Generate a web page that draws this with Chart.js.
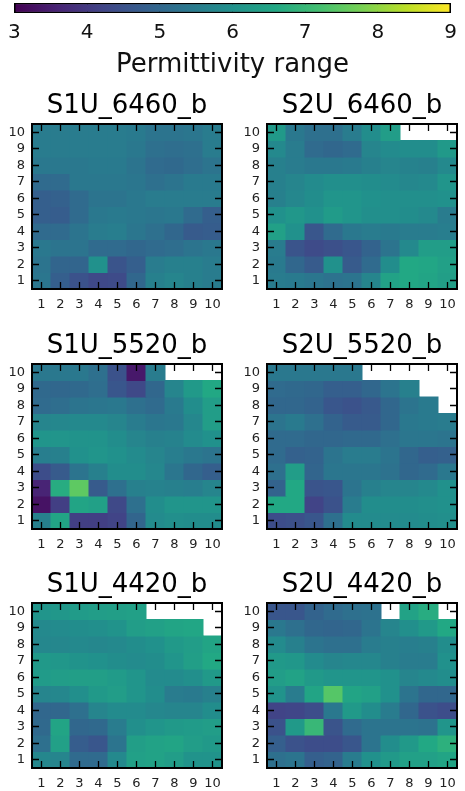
<!DOCTYPE html>
<html>
<head>
<meta charset="utf-8">
<script src="https://cdn.jsdelivr.net/npm/chart.js@4.4.0/dist/chart.umd.min.js"></script>
<style>
  html, body { margin: 0; padding: 0; background: #fff; overflow: hidden; }
  body { width: 465px; height: 791px; position: relative; }
  canvas { position: absolute; }
</style>
</head>
<body>
<canvas id="cbar" width="465" height="85" style="left:0px;top:0px"></canvas>
<canvas id="p0" width="232" height="230" style="left:0px;top:85px"></canvas>
<canvas id="p1" width="230" height="230" style="left:235px;top:85px"></canvas>
<canvas id="p2" width="232" height="230" style="left:0px;top:325px"></canvas>
<canvas id="p3" width="230" height="230" style="left:235px;top:325px"></canvas>
<canvas id="p4" width="232" height="230" style="left:0px;top:564px"></canvas>
<canvas id="p5" width="230" height="230" style="left:235px;top:564px"></canvas>
<script>
// tick labels
const xLabels = ['1', '2', '3', '4', '5', '6', '7', '8', '9', '10'];
const rowLabels = [10, 9, 8, 7, 6, 5, 4, 3, 2, 1]; // grid rows, top to bottom
const cbTicks = [3, 4, 5, 6, 7, 8, 9];
const panelTitles = ['S1U_6460_b', 'S2U_6460_b', 'S1U_5520_b', 'S2U_5520_b', 'S1U_4420_b', 'S2U_4420_b'];

// permittivity grids (null = no data)
const s1u6460 = [
  [5.5, 5.5, 5.5, 5.5, 5.5, 5.45, 5.3, 5.3, 5.35, 5.5],
  [5.5, 5.5, 5.5, 5.5, 5.5, 5.4, 5.2, 5.15, 5.2, 5.5],
  [5.4, 5.4, 5.4, 5.45, 5.45, 5.3, 5.1, 5.05, 5.15, 5.3],
  [5.1, 5.1, 5.4, 5.4, 5.4, 5.35, 5.2, 5.3, 5.45, 5.45],
  [4.8, 4.85, 5.1, 5.3, 5.3, 5.4, 5.5, 5.5, 5.5, 5.5],
  [4.8, 4.75, 5.1, 5.4, 5.45, 5.4, 5.35, 5.4, 5.1, 4.8],
  [5.1, 5.1, 5.3, 5.5, 5.55, 5.35, 5.2, 5.0, 4.7, 4.75],
  [5.4, 5.3, 5.3, 5.1, 5.1, 5.0, 5.1, 5.15, 5.3, 5.4],
  [5.3, 4.95, 4.95, 6.0, 4.55, 4.8, 5.5, 5.6, 5.6, 5.5],
  [5.35, 4.8, 4.5, 4.3, 4.35, 5.0, 5.6, 5.7, 5.6, 5.5]
];
const s2u6460 = [
  [6.2, 5.4, 5.2, 5.2, 5.5, 5.9, 6.3, null, null, null],
  [5.8, 5.5, 5.1, 5.0, 5.1, 5.7, 5.85, 5.9, 5.9, 6.2],
  [5.6, 5.5, 5.4, 5.4, 5.45, 5.6, 5.7, 5.65, 5.6, 5.8],
  [5.6, 5.7, 5.85, 5.95, 5.95, 5.9, 5.85, 5.75, 5.8, 6.1],
  [5.6, 5.75, 5.9, 6.1, 6.1, 6.0, 5.95, 5.95, 5.95, 6.0],
  [6.0, 6.15, 6.0, 6.25, 6.1, 5.95, 5.95, 5.9, 5.8, 5.5],
  [6.4, 6.0, 4.6, 5.1, 5.4, 5.5, 5.45, 5.5, 5.5, 5.55],
  [5.5, 4.55, 4.35, 4.45, 4.6, 4.9, 5.3, 5.8, 6.3, 6.3],
  [5.45, 5.0, 4.7, 6.0, 4.7, 5.1, 5.9, 6.6, 6.55, 6.4],
  [5.5, 5.45, 5.35, 5.25, 5.3, 5.7, 6.45, 6.6, 6.5, 6.35]
];
const s1u5520 = [
  [5.4, 5.4, 5.4, 5.2, 4.5, 3.4, 5.5, null, null, null],
  [5.05, 5.0, 5.05, 5.15, 4.6, 4.3, 5.0, 5.7, 6.2, 6.6],
  [5.1, 5.15, 5.3, 5.35, 5.4, 5.2, 5.1, 5.45, 5.9, 6.3],
  [5.7, 5.75, 5.8, 5.8, 5.7, 5.5, 5.35, 5.4, 5.75, 6.3],
  [6.1, 6.1, 6.05, 6.05, 5.9, 5.7, 5.6, 5.65, 5.85, 6.0],
  [5.55, 5.6, 6.0, 6.1, 6.0, 5.85, 5.7, 5.55, 5.4, 5.3],
  [4.4, 4.7, 5.3, 5.6, 5.9, 5.9, 5.75, 5.35, 5.0, 4.8],
  [3.6, 6.7, 7.5, 4.7, 5.2, 5.6, 5.65, 5.6, 5.55, 5.7],
  [3.3, 4.1, 6.5, 6.4, 4.3, 5.2, 5.9, 6.1, 6.1, 6.1],
  [5.6, 6.5, 4.1, 4.1, 4.2, 4.95, 5.85, 5.95, 5.9, 5.9]
];
const s2u5520 = [
  [5.4, 5.4, 5.4, 5.4, 5.4, null, null, null, null, null],
  [5.1, 5.05, 5.0, 4.8, 4.8, 5.0, 5.3, 5.6, null, null],
  [5.0, 5.0, 4.9, 4.6, 4.5, 4.65, 5.0, 5.3, 5.45, null],
  [5.3, 5.45, 5.2, 4.9, 4.7, 4.7, 5.0, 5.4, 5.45, 5.5],
  [5.1, 5.1, 5.0, 5.0, 5.05, 5.05, 5.2, 5.35, 5.35, 5.3],
  [5.1, 4.85, 4.9, 5.3, 5.5, 5.5, 5.3, 5.0, 4.8, 4.85],
  [5.2, 6.3, 4.95, 5.35, 5.35, 5.35, 5.25, 5.0, 5.1, 5.4],
  [4.9, 6.6, 4.55, 4.6, 5.3, 5.6, 5.7, 5.7, 5.8, 6.0],
  [6.6, 6.6, 4.2, 4.5, 5.5, 5.9, 5.9, 5.9, 5.95, 6.0],
  [4.4, 4.45, 4.6, 5.2, 5.85, 5.85, 5.85, 5.85, 5.9, 5.95]
];
const s1u4420 = [
  [6.1, 6.15, 6.25, 6.3, 6.35, 6.4, null, null, null, null],
  [5.8, 5.85, 5.9, 5.95, 6.05, 6.3, 6.4, 6.5, 6.55, null],
  [5.75, 5.75, 5.8, 5.75, 5.8, 5.9, 6.0, 6.2, 6.3, 6.5],
  [6.2, 6.15, 6.05, 6.0, 5.9, 5.85, 5.9, 6.1, 6.35, 6.6],
  [6.25, 6.3, 6.35, 6.35, 6.25, 6.1, 5.85, 5.85, 5.95, 6.2],
  [5.7, 5.75, 5.95, 6.2, 6.3, 6.1, 5.9, 5.5, 5.45, 5.6],
  [5.0, 5.0, 5.2, 5.7, 5.85, 5.85, 5.75, 5.7, 5.7, 5.9],
  [5.05, 6.5, 5.0, 5.05, 5.5, 5.95, 6.1, 6.2, 6.25, 6.3],
  [5.2, 6.4, 4.75, 4.6, 5.3, 6.35, 6.45, 6.5, 6.3, 6.2],
  [5.75, 5.7, 5.1, 5.1, 5.8, 6.4, 6.45, 6.3, 6.05, 6.05]
];
const s2u4420 = [
  [4.6, 4.6, 4.9, 5.1, 5.2, 5.25, null, 6.45, 6.7, null],
  [5.4, 5.2, 5.0, 4.95, 5.0, 5.3, 5.7, 5.95, 6.2, 6.6],
  [5.85, 5.6, 5.3, 5.2, 5.2, 5.5, 5.6, 5.55, 5.6, 5.9],
  [6.2, 6.15, 5.85, 5.7, 5.75, 5.75, 5.6, 5.5, 5.5, 6.0],
  [6.3, 6.45, 6.2, 6.1, 6.1, 6.1, 6.0, 5.7, 5.8, 5.9],
  [6.05, 5.5, 6.5, 7.4, 6.5, 6.4, 6.0, 5.3, 5.0, 5.0],
  [4.2, 4.25, 4.4, 5.4, 6.2, 5.9, 5.5, 5.0, 4.5, 4.4],
  [4.5, 6.2, 7.0, 4.55, 5.1, 5.3, 5.3, 5.3, 5.25, 6.1],
  [4.8, 4.5, 4.4, 4.4, 4.6, 5.3, 5.9, 6.2, 6.6, 6.8],
  [5.2, 5.3, 4.8, 4.9, 5.5, 6.0, 6.2, 6.4, 6.4, 6.5]
];

// viridis colour map
const viridisStops = [
  [0, '#440154'], [0.1, '#482475'], [0.2, '#414487'], [0.25, '#3b528b'], [0.3, '#355f8d'],
  [0.4, '#2a788e'], [0.5, '#21918c'], [0.6, '#22a884'], [0.7, '#44bf70'], [0.75, '#5ec962'],
  [0.8, '#7ad151'], [0.9, '#bddf26'], [1, '#fde725']
];
const vmin = cbTicks[0];
const vmax = cbTicks[cbTicks.length - 1];

function hexRgb(h) {
  return [1, 3, 5].map(i => parseInt(h.substr(i, 2), 16));
}

function viridis(v) {
  const t = Math.min(1, Math.max(0, (v - vmin) / (vmax - vmin)));
  for (let i = 1; i < viridisStops.length; i++) {
    const [t1, c1] = viridisStops[i];
    if (t <= t1) {
      const [t0, c0] = viridisStops[i - 1];
      const f = (t - t0) / (t1 - t0);
      const a = hexRgb(c0), b = hexRgb(c1);
      const rgb = a.map((x, k) => Math.round(x + (b[k] - x) * f));
      return `rgb(${rgb.join(',')})`;
    }
  }
  return viridisStops[viridisStops.length - 1][1];
}

Chart.defaults.font.family = "'DejaVu Sans', sans-serif";

// inward tick marks on all four sides plus black frame
const frameTicks = {
  id: 'frameTicks',
  afterDraw(chart) {
    const { ctx, chartArea: a, scales: { x, y } } = chart;
    const len = 7;
    ctx.save();
    ctx.strokeStyle = '#000';
    ctx.lineWidth = 1.3;
    ctx.beginPath();
    x.ticks.forEach((t, i) => {
      const px = Math.floor(x.getPixelForTick(i)) + 0.5;
      ctx.moveTo(px, a.bottom); ctx.lineTo(px, a.bottom - len);
      ctx.moveTo(px, a.top); ctx.lineTo(px, a.top + len);
    });
    y.ticks.forEach((t, i) => {
      const py = Math.floor(y.getPixelForTick(i)) + 0.5;
      ctx.moveTo(a.left, py); ctx.lineTo(a.left + len, py);
      ctx.moveTo(a.right, py); ctx.lineTo(a.right - len, py);
    });
    ctx.stroke();
    ctx.lineWidth = 2;
    ctx.strokeRect(a.left, a.top, a.right - a.left, a.bottom - a.top);
    ctx.restore();
  }
};

function makePanel(id, title, grid, padRight) {
  new Chart(document.getElementById(id), {
    type: 'bar',
    data: {
      labels: xLabels,
      datasets: grid.map((row, i) => ({
        data: row.map(v => v === null ? null : [rowLabels[i] - 0.5, rowLabels[i] + 0.5]),
        backgroundColor: row.map(v => v === null ? 'rgba(0,0,0,0)' : viridis(v)),
        grouped: false,
        barPercentage: 1,
        categoryPercentage: 1,
        borderWidth: 0,
        inflateAmount: 0.5
      }))
    },
    options: {
      responsive: false,
      animation: false,
      devicePixelRatio: 1,
      layout: { padding: { right: padRight } },
      plugins: {
        legend: { display: false },
        tooltip: { enabled: false },
        title: {
          display: true,
          fullSize: false,
          text: title,
          color: '#000',
          font: { size: 26, weight: 'normal', lineHeight: 1 },
          padding: { top: 8, bottom: 5 }
        }
      },
      scales: {
        x: {
          grid: { display: false, drawTicks: false },
          border: { display: false },
          ticks: { color: '#222', font: { size: 13 }, padding: 8, maxRotation: 0, minRotation: 0, autoSkip: false },
          afterFit: s => { s.height = 26; }
        },
        y: {
          min: 0.5,
          max: 10.5,
          grid: { display: false, drawTicks: false },
          border: { display: false },
          afterBuildTicks: s => { s.ticks = xLabels.map(l => ({ value: Number(l) })); },
          ticks: { color: '#222', font: { size: 13 }, padding: 7, autoSkip: false },
          afterFit: s => { s.width = 32; }
        }
      }
    },
    plugins: [frameTicks]
  });
}

// colour bar
new Chart(document.getElementById('cbar'), {
  type: 'bar',
  data: {
    labels: [''],
    datasets: [{
      data: [[vmin, vmax]],
      backgroundColor: (c) => {
        const chart = c.chart;
        const xs = chart.scales.x;
        if (!chart.chartArea || !xs) return 'rgba(0,0,0,0)';
        const g = chart.ctx.createLinearGradient(xs.getPixelForValue(vmin), 0, xs.getPixelForValue(vmax), 0);
        viridisStops.forEach(([t, col]) => g.addColorStop(t, col));
        return g;
      },
      borderColor: '#000',
      borderWidth: 1.5,
      borderSkipped: false,
      barPercentage: 1,
      categoryPercentage: 1
    }]
  },
  options: {
    indexAxis: 'y',
    responsive: false,
    animation: false,
    devicePixelRatio: 1,
    layout: { padding: { left: 10, right: 8, top: 3 } },
    plugins: { legend: { display: false }, tooltip: { enabled: false } },
    scales: {
      x: {
        type: 'linear',
        min: vmin,
        max: vmax,
        z: 1,
        grid: { color: '#000', lineWidth: 1, drawTicks: false },
        border: { display: false },
        afterBuildTicks: s => { s.ticks = cbTicks.map(v => ({ value: v })); },
        ticks: { color: '#111', font: { size: 20 }, padding: 8, maxRotation: 0 },
        title: {
          display: true,
          text: 'Permittivity range',
          color: '#111',
          font: { size: 26, lineHeight: 1 },
          padding: { top: 0, bottom: 7 }
        },
        afterFit: s => { s.height = 72; }
      },
      y: { display: false }
    }
  }
});

makePanel('p0', panelTitles[0], s1u6460, 10);
makePanel('p1', panelTitles[1], s2u6460, 8);
makePanel('p2', panelTitles[2], s1u5520, 10);
makePanel('p3', panelTitles[3], s2u5520, 8);
makePanel('p4', panelTitles[4], s1u4420, 10);
makePanel('p5', panelTitles[5], s2u4420, 8);
</script>
</body>
</html>
